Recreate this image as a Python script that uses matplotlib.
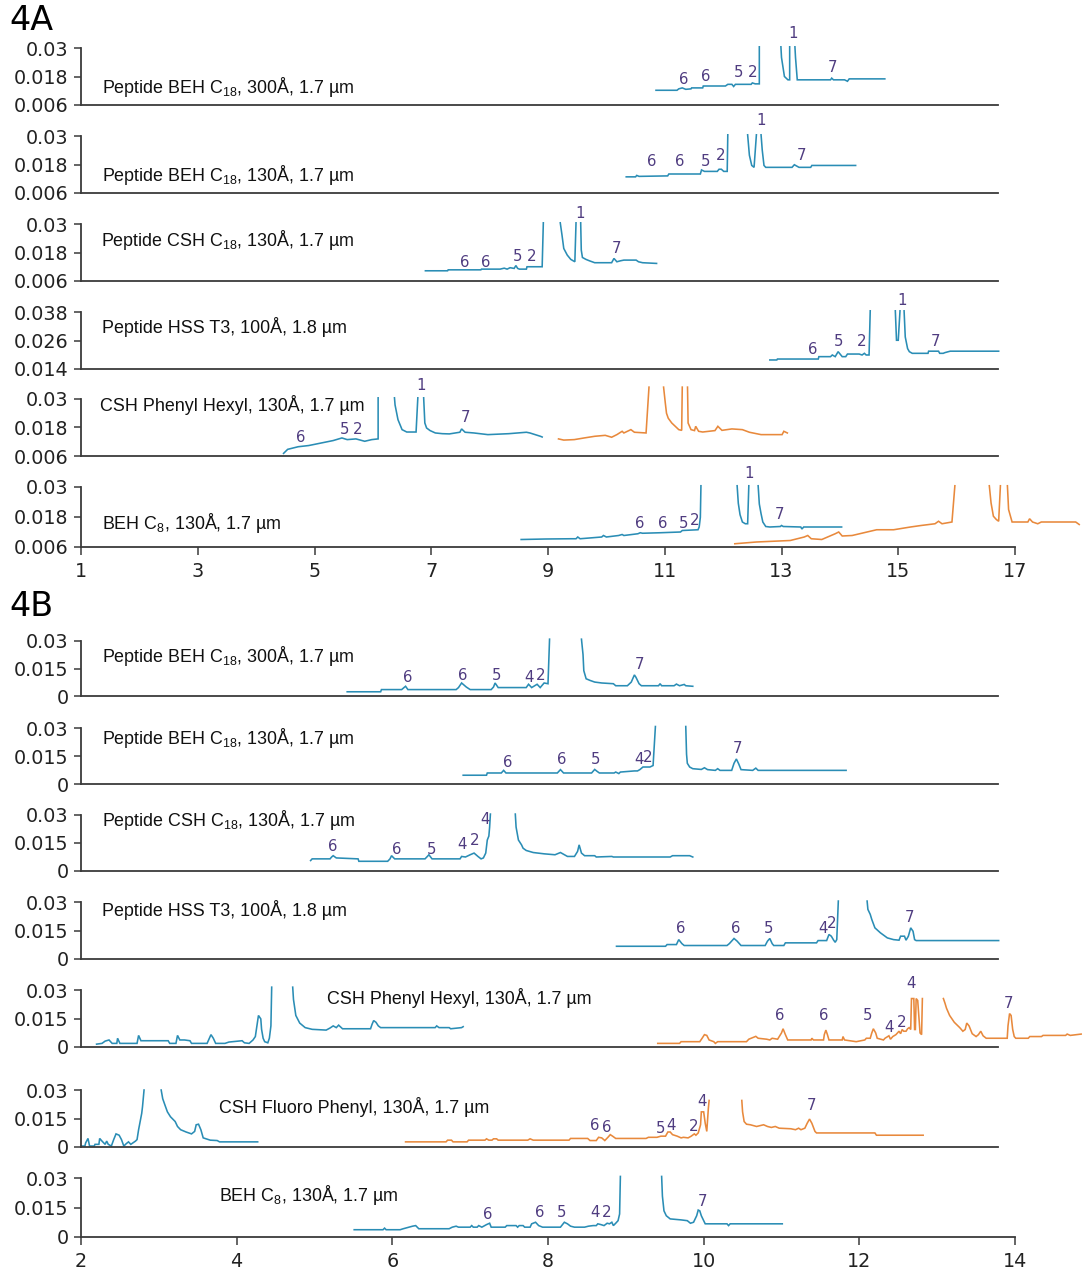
import numpy as np
import matplotlib
matplotlib.use("Agg")
import matplotlib.pyplot as plt

plt.rcParams['mathtext.fontset'] = 'custom'
plt.rcParams['mathtext.rm'] = 'Liberation Sans'
plt.rcParams['mathtext.it'] = 'Liberation Sans:italic'
plt.rcParams['mathtext.bf'] = 'Liberation Sans:bold'

nan = np.nan
BRK = (nan, nan)

# ------------------------------------------------------------------ DATA
# Column names
col_300 = "Peptide BEH C$_{18}$, 300Å, 1.7 µm"
col_130 = "Peptide BEH C$_{18}$, 130Å, 1.7 µm"
col_csh = "Peptide CSH C$_{18}$, 130Å, 1.7 µm"
col_hss = "Peptide HSS T3, 100Å, 1.8 µm"
col_ph = "CSH Phenyl Hexyl, 130Å, 1.7 µm"
col_fp = "CSH Fluoro Phenyl, 130Å, 1.7 µm"
col_c8 = "BEH C$_{8}$, 130Å, 1.7 µm"

# ---- 4A traces (time min, absorbance AU)
A1_blue = [(10.85,0.0122),(11.21,0.0122),(11.24,0.0128),(11.30,0.0132),(11.36,0.0126),(11.45,0.0128),(11.46,0.0132),(11.65,0.0132),(11.66,0.0140),(12.04,0.0140),(12.08,0.0147),(12.15,0.0147),(12.18,0.0138),(12.21,0.0147),(12.48,0.0147),(12.50,0.0153),(12.55,0.0149),(12.62,0.0149),(12.62,0.0305),BRK,(12.99,0.0305),(13.00,0.0260),(13.05,0.0180),(13.11,0.0166),(13.14,0.0166),(13.14,0.0305),BRK,(13.23,0.0305),(13.24,0.0260),(13.27,0.0166),(13.84,0.0166),(13.86,0.0173),(13.89,0.0166),(14.08,0.0166),(14.13,0.0160),(14.16,0.0170),(14.77,0.0170)]
A2_blue = [(10.34,0.0128),(10.50,0.0128),(10.52,0.0134),(10.56,0.0130),(11.05,0.0132),(11.07,0.0140),(11.61,0.0140),(11.63,0.0157),(11.68,0.0151),(11.90,0.0151),(11.93,0.0160),(11.97,0.0160),(12.01,0.0151),(12.07,0.0151),(12.08,0.0305),BRK,(12.42,0.0305),(12.45,0.0219),(12.49,0.0176),(12.53,0.0168),(12.57,0.0305),BRK,(12.65,0.0305),(12.67,0.0241),(12.70,0.0176),(12.73,0.0168),(13.18,0.0168),(13.22,0.0179),(13.30,0.0168),(13.50,0.0168),(13.52,0.0176),(14.27,0.0176)]
A3_blue = [(6.90,0.0103),(7.28,0.0103),(7.29,0.0107),(7.85,0.0107),(7.86,0.0110),(8.18,0.0110),(8.25,0.0114),(8.30,0.0110),(8.35,0.0116),(8.42,0.0113),(8.45,0.0125),(8.48,0.0113),(8.51,0.0110),(8.63,0.0110),(8.64,0.0120),(8.90,0.0120),(8.92,0.0305),BRK,(9.21,0.0305),(9.24,0.0253),(9.27,0.0197),(9.33,0.0169),(9.39,0.0151),(9.46,0.0141),(9.48,0.0305),BRK,(9.56,0.0305),(9.57,0.0190),(9.59,0.0159),(9.65,0.0151),(9.71,0.0145),(9.80,0.0137),(10.09,0.0137),(10.13,0.0155),(10.18,0.0141),(10.24,0.0145),(10.30,0.0148),(10.51,0.0148),(10.55,0.0141),(10.62,0.0137),(10.86,0.0134)]
A4_blue = [(12.80,0.0178),(12.92,0.0178),(12.93,0.0182),(13.63,0.0182),(13.64,0.0192),(13.84,0.0192),(13.87,0.0199),(13.92,0.0192),(13.97,0.0213),(14.04,0.0192),(14.10,0.0192),(14.13,0.0203),(14.33,0.0203),(14.38,0.0199),(14.42,0.0206),(14.45,0.0199),(14.50,0.0199),(14.52,0.0385),BRK,(14.95,0.0385),(14.97,0.0261),(15.00,0.0261),(15.03,0.0385),BRK,(15.10,0.0385),(15.12,0.0275),(15.16,0.0226),(15.19,0.0213),(15.24,0.0206),(15.51,0.0206),(15.52,0.0215),(15.69,0.0215),(15.71,0.0206),(15.77,0.0206),(15.80,0.0209),(15.89,0.0215),(16.72,0.0215)]
A5_blue = [(4.47,0.0071),(4.54,0.0088),(4.72,0.0099),(4.90,0.0104),(5.08,0.0113),(5.32,0.0125),(5.47,0.0136),(5.56,0.0129),(5.71,0.0132),(5.86,0.0122),(5.98,0.0129),(6.09,0.0132),(6.09,0.0305),BRK,(6.37,0.0305),(6.38,0.0275),(6.43,0.0213),(6.50,0.0171),(6.58,0.0161),(6.74,0.0161),(6.77,0.0305),BRK,(6.87,0.0305),(6.89,0.0199),(6.92,0.0178),(6.98,0.0167),(7.07,0.0157),(7.19,0.0154),(7.31,0.0153),(7.49,0.0160),(7.52,0.0174),(7.58,0.0160),(7.73,0.0157),(7.97,0.0150),(8.33,0.0154),(8.63,0.0160),(8.69,0.0157),(8.87,0.0143),(8.90,0.0140)]
A5_orange = [(9.18,0.0132),(9.27,0.0127),(9.45,0.0129),(9.62,0.0136),(9.80,0.0143),(9.98,0.0147),(10.09,0.0139),(10.18,0.0150),(10.27,0.0164),(10.30,0.0157),(10.42,0.0171),(10.48,0.0160),(10.68,0.0157),(10.73,0.0350),BRK,(10.98,0.0350),(11.01,0.0282),(11.03,0.0240),(11.06,0.0219),(11.12,0.0199),(11.18,0.0185),(11.24,0.0171),(11.29,0.0168),(11.30,0.0350),BRK,(11.39,0.0350),(11.40,0.0199),(11.45,0.0171),(11.51,0.0167),(11.53,0.0185),(11.58,0.0164),(11.65,0.0161),(11.86,0.0167),(11.91,0.0185),(11.98,0.0168),(12.15,0.0174),(12.33,0.0171),(12.45,0.0160),(12.65,0.0150),(13.01,0.0150),(13.04,0.0164),(13.10,0.0157)]
A6_blue = [(8.54,0.0090),(8.96,0.0092),(9.39,0.0093),(9.48,0.0093),(9.51,0.0100),(9.55,0.0093),(9.92,0.0100),(9.95,0.0106),(10.00,0.0100),(10.21,0.0106),(10.27,0.0110),(10.30,0.0106),(10.54,0.0113),(10.58,0.0117),(10.62,0.0115),(10.92,0.0117),(11.27,0.0120),(11.30,0.0126),(11.57,0.0129),(11.59,0.0140),(11.61,0.0179),(11.62,0.0305),BRK,(12.24,0.0305),(12.26,0.0235),(12.29,0.0189),(12.33,0.0160),(12.38,0.0153),(12.42,0.0153),(12.44,0.0305),BRK,(12.60,0.0305),(12.62,0.0232),(12.65,0.0193),(12.68,0.0160),(12.73,0.0142),(12.80,0.0140),(12.98,0.0142),(13.00,0.0146),(13.03,0.0142),(13.33,0.0140),(13.35,0.0132),(13.38,0.0140),(14.03,0.0140)]
A6_orange = [(12.20,0.0073),(12.57,0.0080),(13.15,0.0086),(13.39,0.0100),(13.45,0.0106),(13.51,0.0093),(13.69,0.0090),(13.92,0.0113),(13.98,0.0120),(14.04,0.0104),(14.21,0.0106),(14.63,0.0129),(14.92,0.0129),(15.21,0.0140),(15.39,0.0146),(15.63,0.0153),(15.69,0.0163),(15.75,0.0153),(15.92,0.0160),(15.97,0.0305),BRK,(16.56,0.0305),(16.59,0.0236),(16.63,0.0183),(16.68,0.0170),(16.72,0.0163),(16.75,0.0305),BRK,(16.87,0.0305),(16.89,0.0210),(16.95,0.0160),(17.22,0.0160),(17.25,0.0173),(17.30,0.0160),(17.39,0.0153),(17.45,0.0160),(17.69,0.0160),(18.04,0.0160),(18.10,0.0150)]

# ---- 4B traces
B1_blue = [(5.42,0.0023),(5.85,0.0023),(5.86,0.0035),(6.12,0.0035),(6.15,0.0046),(6.17,0.0053),(6.20,0.0035),(6.82,0.0035),(6.85,0.0046),(6.89,0.0071),(6.95,0.0049),(7.00,0.0035),(7.27,0.0035),(7.30,0.0049),(7.32,0.0071),(7.36,0.0046),(7.72,0.0046),(7.75,0.0064),(7.79,0.0046),(7.86,0.0064),(7.90,0.0046),(7.95,0.0071),(8.00,0.0067),(8.02,0.0310),BRK,(8.43,0.0310),(8.45,0.0226),(8.46,0.0138),(8.49,0.0094),(8.54,0.0085),(8.60,0.0076),(8.69,0.0071),(8.84,0.0067),(8.87,0.0056),(9.02,0.0056),(9.07,0.0076),(9.11,0.0115),(9.13,0.0102),(9.17,0.0067),(9.20,0.0056),(9.42,0.0056),(9.44,0.0067),(9.46,0.0056),(9.62,0.0056),(9.65,0.0065),(9.69,0.0056),(9.75,0.0063),(9.77,0.0056),(9.86,0.0053)]
B2_blue = [(6.91,0.0047),(7.21,0.0047),(7.22,0.0059),(7.40,0.0059),(7.43,0.0073),(7.46,0.0059),(8.12,0.0059),(8.16,0.0077),(8.20,0.0059),(8.56,0.0059),(8.60,0.0078),(8.63,0.0068),(8.66,0.0059),(8.85,0.0059),(8.87,0.0064),(8.91,0.0056),(8.93,0.0064),(9.11,0.0070),(9.15,0.0070),(9.18,0.0077),(9.22,0.0091),(9.31,0.0091),(9.35,0.0099),(9.38,0.0308),BRK,(9.77,0.0308),(9.78,0.0160),(9.79,0.0111),(9.82,0.0091),(9.86,0.0082),(9.97,0.0078),(10.01,0.0087),(10.05,0.0077),(10.15,0.0073),(10.18,0.0082),(10.21,0.0073),(10.36,0.0073),(10.39,0.0111),(10.42,0.0134),(10.45,0.0108),(10.48,0.0077),(10.63,0.0073),(10.67,0.0085),(10.70,0.0073),(11.83,0.0073)]
B3_blue = [(4.95,0.0056),(4.97,0.0065),(5.20,0.0065),(5.22,0.0075),(5.24,0.0082),(5.28,0.0070),(5.56,0.0065),(5.57,0.0052),(5.94,0.0052),(5.97,0.0065),(5.99,0.0082),(6.03,0.0065),(6.42,0.0065),(6.45,0.0078),(6.47,0.0087),(6.51,0.0065),(6.87,0.0065),(6.89,0.0078),(6.94,0.0075),(7.00,0.0087),(7.05,0.0096),(7.10,0.0078),(7.14,0.0065),(7.17,0.0070),(7.20,0.0096),(7.22,0.0166),(7.24,0.0187),(7.25,0.0235),(7.26,0.0305),BRK,(7.58,0.0305),(7.59,0.0235),(7.62,0.0166),(7.66,0.0140),(7.68,0.0122),(7.72,0.0110),(7.81,0.0099),(7.95,0.0092),(8.09,0.0087),(8.16,0.0099),(8.25,0.0078),(8.34,0.0078),(8.38,0.0105),(8.40,0.0140),(8.43,0.0096),(8.47,0.0082),(8.60,0.0082),(8.62,0.0075),(8.82,0.0078),(8.84,0.0075),(9.57,0.0075),(9.60,0.0082),(9.82,0.0082),(9.86,0.0075)]
B4_blue = [(8.88,0.0067),(9.51,0.0067),(9.53,0.0076),(9.65,0.0076),(9.68,0.0102),(9.72,0.0081),(9.75,0.0071),(10.30,0.0071),(10.33,0.0081),(10.39,0.0108),(10.43,0.0094),(10.48,0.0071),(10.79,0.0071),(10.82,0.0094),(10.85,0.0108),(10.88,0.0081),(10.90,0.0071),(11.03,0.0071),(11.05,0.0085),(11.45,0.0085),(11.47,0.0097),(11.58,0.0097),(11.61,0.0129),(11.64,0.0120),(11.67,0.0099),(11.69,0.0088),(11.71,0.0102),(11.73,0.0305),BRK,(12.10,0.0305),(12.11,0.0261),(12.14,0.0235),(12.16,0.0208),(12.20,0.0164),(12.27,0.0138),(12.36,0.0111),(12.44,0.0102),(12.51,0.0099),(12.53,0.0120),(12.58,0.0120),(12.60,0.0099),(12.63,0.0120),(12.66,0.0164),(12.69,0.0146),(12.71,0.0102),(12.73,0.0097),(13.79,0.0097)]
B5_blue = [(2.20,0.0015),(2.27,0.0019),(2.31,0.0031),(2.36,0.0037),(2.40,0.0019),(2.46,0.0019),(2.47,0.0046),(2.50,0.0019),(2.72,0.0019),(2.74,0.0061),(2.77,0.0033),(2.85,0.0033),(2.99,0.0033),(3.12,0.0033),(3.14,0.0019),(3.22,0.0019),(3.24,0.0061),(3.27,0.0037),(3.33,0.0037),(3.40,0.0033),(3.42,0.0019),(3.62,0.0019),(3.67,0.0065),(3.70,0.0046),(3.73,0.0019),(3.85,0.0019),(3.90,0.0026),(4.07,0.0033),(4.10,0.0022),(4.16,0.0019),(4.21,0.0037),(4.24,0.0055),(4.26,0.0111),(4.28,0.0166),(4.31,0.0148),(4.32,0.0093),(4.34,0.0046),(4.36,0.0028),(4.40,0.0022),(4.42,0.0046),(4.44,0.0111),(4.45,0.0315),BRK,(4.72,0.0315),(4.73,0.0250),(4.76,0.0166),(4.81,0.0126),(4.88,0.0102),(4.97,0.0093),(5.15,0.0089),(5.20,0.0100),(5.24,0.0111),(5.28,0.0102),(5.31,0.0115),(5.36,0.0096),(5.72,0.0096),(5.74,0.0120),(5.76,0.0139),(5.79,0.0130),(5.82,0.0111),(5.85,0.0102),(6.55,0.0102),(6.57,0.0111),(6.60,0.0102),(6.73,0.0102),(6.75,0.0096),(6.89,0.0102),(6.91,0.0107)]
B5_orange = [(9.41,0.0019),(9.69,0.0019),(9.71,0.0028),(9.95,0.0028),(9.98,0.0046),(10.01,0.0065),(10.04,0.0061),(10.07,0.0037),(10.13,0.0028),(10.15,0.0019),(10.18,0.0028),(10.55,0.0028),(10.58,0.0041),(10.67,0.0056),(10.70,0.0046),(10.81,0.0041),(10.85,0.0037),(10.88,0.0046),(10.95,0.0041),(11.00,0.0074),(11.02,0.0096),(11.05,0.0065),(11.08,0.0037),(11.38,0.0037),(11.39,0.0046),(11.41,0.0037),(11.54,0.0037),(11.55,0.0065),(11.57,0.0089),(11.59,0.0065),(11.61,0.0037),(11.78,0.0037),(11.79,0.0055),(11.81,0.0037),(11.96,0.0028),(12.07,0.0037),(12.09,0.0046),(12.14,0.0046),(12.16,0.0074),(12.18,0.0096),(12.21,0.0074),(12.23,0.0046),(12.31,0.0037),(12.33,0.0046),(12.38,0.0059),(12.40,0.0041),(12.43,0.0055),(12.47,0.0065),(12.49,0.0074),(12.51,0.0083),(12.53,0.0070),(12.55,0.0092),(12.57,0.0083),(12.60,0.0083),(12.62,0.0096),(12.64,0.0102),(12.66,0.0092),(12.67,0.0255),(12.70,0.0255),(12.71,0.0092),(12.72,0.0092),(12.73,0.0255),(12.75,0.0245),(12.78,0.0074),(12.80,0.0065),(12.81,0.0255),BRK,(13.08,0.0255),(13.10,0.0231),(13.12,0.0204),(13.16,0.0166),(13.22,0.0130),(13.29,0.0102),(13.33,0.0083),(13.36,0.0092),(13.38,0.0126),(13.41,0.0111),(13.45,0.0070),(13.50,0.0055),(13.53,0.0065),(13.56,0.0083),(13.59,0.0059),(13.63,0.0046),(13.86,0.0046),(13.90,0.0046),(13.91,0.0111),(13.93,0.0176),(13.95,0.0166),(13.97,0.0093),(13.99,0.0055),(14.01,0.0046),(14.17,0.0046),(14.19,0.0055),(14.34,0.0055),(14.36,0.0061),(14.65,0.0061),(14.67,0.0068),(14.71,0.0061),(14.85,0.0068)]
B6_blue = [(2.005,0.0005),(2.05,0.0005),(2.06,0.0022),(2.09,0.0045),(2.11,0.0005),(2.17,0.0005),(2.18,0.0014),(2.23,0.0014),(2.24,0.0045),(2.27,0.0031),(2.31,0.0014),(2.33,0.0031),(2.35,0.0014),(2.39,0.0005),(2.42,0.0039),(2.45,0.0069),(2.49,0.0062),(2.52,0.0039),(2.55,0.0005),(2.58,0.0017),(2.61,0.0027),(2.64,0.0014),(2.70,0.0031),(2.72,0.0039),(2.74,0.0091),(2.76,0.0134),(2.78,0.0177),(2.79,0.0211),(2.81,0.0300),BRK,(3.03,0.0300),(3.05,0.0254),(3.08,0.0219),(3.11,0.0185),(3.15,0.0159),(3.21,0.0134),(3.24,0.0108),(3.28,0.0091),(3.35,0.0079),(3.42,0.0069),(3.46,0.0082),(3.48,0.0117),(3.51,0.0120),(3.54,0.0091),(3.57,0.0048),(3.66,0.0036),(3.75,0.0034),(3.78,0.0027),(4.27,0.0027)]
B6_orange = [(6.17,0.0027),(6.69,0.0027),(6.71,0.0036),(6.76,0.0036),(6.78,0.0027),(6.96,0.0027),(6.98,0.0036),(7.19,0.0036),(7.21,0.0043),(7.24,0.0036),(7.28,0.0036),(7.30,0.0043),(7.34,0.0043),(7.36,0.0036),(7.74,0.0036),(7.77,0.0043),(7.81,0.0036),(8.27,0.0036),(8.29,0.0045),(8.51,0.0045),(8.54,0.0034),(8.62,0.0034),(8.65,0.0051),(8.69,0.0048),(8.73,0.0034),(8.77,0.0051),(8.80,0.0065),(8.83,0.0057),(8.87,0.0045),(9.26,0.0045),(9.29,0.0051),(9.40,0.0051),(9.45,0.0057),(9.51,0.0057),(9.54,0.0079),(9.57,0.0079),(9.60,0.0065),(9.66,0.0057),(9.71,0.0048),(9.74,0.0051),(9.80,0.0048),(9.84,0.0057),(9.88,0.0069),(9.90,0.0062),(9.93,0.0074),(9.96,0.0117),(9.97,0.0185),(10.00,0.0185),(10.02,0.0125),(10.04,0.0082),(10.06,0.0202),(10.07,0.0245),BRK,(10.49,0.0245),(10.50,0.0185),(10.52,0.0134),(10.55,0.0120),(10.60,0.0117),(10.68,0.0108),(10.77,0.0117),(10.82,0.0108),(10.87,0.0103),(10.92,0.0108),(10.97,0.0099),(11.12,0.0096),(11.18,0.0091),(11.22,0.0099),(11.25,0.0091),(11.30,0.0099),(11.33,0.0125),(11.36,0.0147),(11.39,0.0125),(11.43,0.0082),(11.45,0.0074),(12.20,0.0074),(12.22,0.0062),(12.82,0.0062)]
B7_blue = [(5.51,0.0037),(5.88,0.0037),(5.90,0.0045),(5.92,0.0037),(6.10,0.0037),(6.14,0.0042),(6.26,0.0055),(6.30,0.0058),(6.34,0.0042),(6.73,0.0042),(6.77,0.0050),(6.82,0.0055),(6.85,0.0050),(7.00,0.0050),(7.02,0.0058),(7.04,0.0050),(7.09,0.0050),(7.11,0.0058),(7.15,0.0050),(7.21,0.0063),(7.25,0.0070),(7.27,0.0050),(7.45,0.0050),(7.47,0.0058),(7.59,0.0058),(7.61,0.0050),(7.63,0.0058),(7.68,0.0058),(7.70,0.0050),(7.77,0.0050),(7.79,0.0067),(7.84,0.0075),(7.88,0.0058),(7.93,0.0050),(8.16,0.0050),(8.20,0.0070),(8.21,0.0075),(8.25,0.0067),(8.29,0.0055),(8.34,0.0050),(8.47,0.0050),(8.52,0.0055),(8.58,0.0058),(8.62,0.0058),(8.64,0.0067),(8.68,0.0063),(8.72,0.0058),(8.76,0.0070),(8.79,0.0067),(8.82,0.0075),(8.84,0.0058),(8.87,0.0070),(8.90,0.0083),(8.92,0.0117),(8.93,0.0308),BRK,(9.46,0.0308),(9.47,0.0208),(9.49,0.0133),(9.52,0.0108),(9.57,0.0092),(9.71,0.0087),(9.79,0.0083),(9.83,0.0070),(9.87,0.0075),(9.91,0.0108),(9.93,0.0137),(9.95,0.0133),(9.97,0.0108),(10.01,0.0075),(10.02,0.0067),(10.30,0.0067),(10.32,0.0058),(10.34,0.0067),(11.01,0.0067)]

# ---- peak labels (text, time, absorbance)
A1_peaks = [("6",11.33,0.0166),("6",11.70,0.0180),("5",12.27,0.0195),("2",12.51,0.0195),("1",13.20,0.0360),("7",13.88,0.0216)]
A2_peaks = [("6",10.77,0.0193),("6",11.26,0.0193),("5",11.70,0.0193),("2",11.95,0.0219),("1",12.65,0.0367),("7",13.35,0.0219)]
A3_peaks = [("6",7.58,0.0137),("6",7.93,0.0137),("5",8.48,0.0162),("2",8.72,0.0162),("1",9.55,0.0343),("7",10.17,0.0197)]
A4_peaks = [("6",13.54,0.0220),("5",13.97,0.0254),("2",14.38,0.0254),("1",15.07,0.0429),("7",15.64,0.0254)]
A5_peaks = [("6",4.77,0.0139),("5",5.52,0.0171),("2",5.74,0.0171),("1",6.83,0.0358),("7",7.58,0.0220)]
A6_peaks = [("6",10.58,0.0155),("6",10.96,0.0155),("5",11.33,0.0155),("2",11.52,0.0166),("1",12.45,0.0354),("7",12.97,0.0190)]
B1_peaks = [("6",6.20,0.0102),("6",6.91,0.0111),("5",7.34,0.0111),("4",7.76,0.0102),("2",7.90,0.0111),("7",9.17,0.0173)]
B2_peaks = [("6",7.48,0.0117),("6",8.18,0.0130),("5",8.61,0.0130),("4",9.17,0.0130),("2",9.28,0.0143),("7",10.43,0.0190)]
B3_peaks = [("6",5.23,0.0131),("6",6.06,0.0117),("5",6.50,0.0117),("4",6.89,0.0140),("2",7.06,0.0166),("4",7.19,0.0274)]
B4_peaks = [("6",9.71,0.0159),("6",10.41,0.0159),("5",10.83,0.0159),("4",11.54,0.0159),("2",11.64,0.0185),("7",12.65,0.0217)]
B5_peaks = [("6",10.98,0.0167),("6",11.54,0.0167),("5",12.10,0.0167),("4",12.38,0.0105),("2",12.54,0.0130),("4",12.66,0.0333),("7",13.92,0.0231)]
B6_peaks = [("6",8.60,0.0113),("6",8.75,0.0103),("5",9.45,0.0099),("4",9.58,0.0113),("2",9.87,0.0108),("4",9.98,0.0240),("7",11.39,0.0216)]
B7_peaks = [("6",7.23,0.0113),("6",7.89,0.0125),("5",8.18,0.0125),("4",8.60,0.0125),("2",8.75,0.0125),("7",9.98,0.0180)]

A_yticks = [0.006, 0.018, 0.03]
A_yticklabels = ["0.006", "0.018", "0.03"]
A_hss_yticks = [0.014, 0.026, 0.038]
A_hss_yticklabels = ["0.014", "0.026", "0.038"]
B_yticks = [0, 0.015, 0.03]
B_yticklabels = ["0", "0.015", "0.03"]
A_xticks = [1, 3, 5, 7, 9, 11, 13, 15, 17]
B_xticks = [2, 4, 6, 8, 10, 12, 14]

# ------------------------------------------------------------------ STYLE / LAYOUT
BLUE = "#2a8db5"
ORANGE = "#e8893c"
PEAKC = "#4f3c80"
SPINEC = "#3a3a3a"
W, H = 1089, 1280
L, R = 81, 1015          # pixel x of axis start / last tick
SPINE_END = 998          # pixel x where upper axes lines stop

fig = plt.figure(figsize=(W / 100, H / 100), dpi=100)

def px_to_data(px, xlo, xhi):
    return xlo + (px - L) / (R - L) * (xhi - xlo)

def make_ax(top, bot, xlim, ylim, yticks, yticklabels, bottom_axis):
    ax = fig.add_axes([L / W, 1 - bot / H, (R - L) / W, (bot - top) / H])
    ax.set_xlim(*xlim)
    ax.set_ylim(*ylim)
    ax.patch.set_alpha(0)
    for s in ("top", "right"):
        ax.spines[s].set_visible(False)
    for s in ("left", "bottom"):
        ax.spines[s].set_color(SPINEC)
        ax.spines[s].set_linewidth(1.3)
    ax.set_yticks(yticks)
    ax.set_yticklabels(yticklabels)
    ax.tick_params(axis="y", direction="out", length=5, width=1.1, color=SPINEC,
                   labelsize=13.8, pad=4, labelcolor="#222222")
    if bottom_axis:
        ax.set_xticks(xlim_ticks[xlim])
        ax.tick_params(axis="x", direction="out", length=6, width=1.1, color=SPINEC,
                       labelsize=13.8, pad=5, labelcolor="#222222")
        ax.spines["bottom"].set_bounds(xlim[0], xlim[1])
    else:
        ax.set_xticks([])
        ax.spines["bottom"].set_bounds(xlim[0], px_to_data(SPINE_END, *xlim))
    ax.spines["left"].set_bounds(*ylim)
    for lab in ax.get_xticklabels() + ax.get_yticklabels():
        lab.set_fontfamily("DejaVu Sans")
    return ax

def trace(ax, pts, color):
    t = [p[0] for p in pts]
    y = [p[1] for p in pts]
    ax.plot(t, y, color=color, lw=1.15, clip_on=False, solid_joinstyle="miter")

def peaks(ax, items):
    for txt, t, y in items:
        ax.text(t, y, txt, color=PEAKC, fontsize=10.8, ha="center", va="center",
                family="DejaVu Sans", clip_on=False)

def colname(ax, txt, xpx, frac):
    ax.text((xpx - L) / (R - L), frac, txt, transform=ax.transAxes, fontsize=12.9,
            family="Liberation Sans", ha="left", va="center", color="#111111")

xlim_ticks = {(1, 17): A_xticks, (2, 14): B_xticks}

# ---- Panel 4A
fig.text(9 / W, 1 - 21 / H, "4A", fontsize=24, family="DejaVu Sans", va="center", ha="left")
A_tops = [48, 136, 224, 312, 399, 487]
A_bots = [105, 193, 281, 369, 456, 547]
A_specs = [
    (col_300, [(A1_blue, BLUE)], A1_peaks, A_yticks, A_yticklabels, (0.006, 0.03), 102, 0.32),
    (col_130, [(A2_blue, BLUE)], A2_peaks, A_yticks, A_yticklabels, (0.006, 0.03), 102, 0.32),
    (col_csh, [(A3_blue, BLUE)], A3_peaks, A_yticks, A_yticklabels, (0.006, 0.03), 101, 0.72),
    (col_hss, [(A4_blue, BLUE)], A4_peaks, A_hss_yticks, A_hss_yticklabels, (0.014, 0.038), 102, 0.74),
    (col_ph, [(A5_blue, BLUE), (A5_orange, ORANGE)], A5_peaks, A_yticks, A_yticklabels, (0.006, 0.03), 100, 0.89),
    (col_c8, [(A6_blue, BLUE), (A6_orange, ORANGE)], A6_peaks, A_yticks, A_yticklabels, (0.006, 0.03), 102, 0.40),
]
for i, (name, trs, pk, yt, ytl, yl, xpx, fr) in enumerate(A_specs):
    ax = make_ax(A_tops[i], A_bots[i], (1, 17), yl, yt, ytl, i == len(A_specs) - 1)
    for pts, c in trs:
        trace(ax, pts, c)
    peaks(ax, pk)
    colname(ax, name, xpx, fr)

# ---- Panel 4B
fig.text(9 / W, 1 - 606 / H, "4B", fontsize=24, family="DejaVu Sans", va="center", ha="left")
B_tops = [641, 728, 815, 902, 990, 1090, 1178]
B_bots = [696, 784, 871, 959, 1047, 1147, 1237]
B_specs = [
    (col_300, [(B1_blue, BLUE)], B1_peaks, 102, 0.73),
    (col_130, [(B2_blue, BLUE)], B2_peaks, 102, 0.82),
    (col_csh, [(B3_blue, BLUE)], B3_peaks, 102, 0.91),
    (col_hss, [(B4_blue, BLUE)], B4_peaks, 102, 0.86),
    (col_ph, [(B5_blue, BLUE), (B5_orange, ORANGE)], B5_peaks, 327, 0.86),
    (col_fp, [(B6_blue, BLUE), (B6_orange, ORANGE)], B6_peaks, 219, 0.70),
    (col_c8, [(B7_blue, BLUE)], B7_peaks, 219, 0.71),
]
for i, (name, trs, pk, xpx, fr) in enumerate(B_specs):
    ax = make_ax(B_tops[i], B_bots[i], (2, 14), (0, 0.03), B_yticks, B_yticklabels,
                 i == len(B_specs) - 1)
    for pts, c in trs:
        trace(ax, pts, c)
    peaks(ax, pk)
    colname(ax, name, xpx, fr)

fig.savefig("out.png", dpi=100, facecolor="white")
